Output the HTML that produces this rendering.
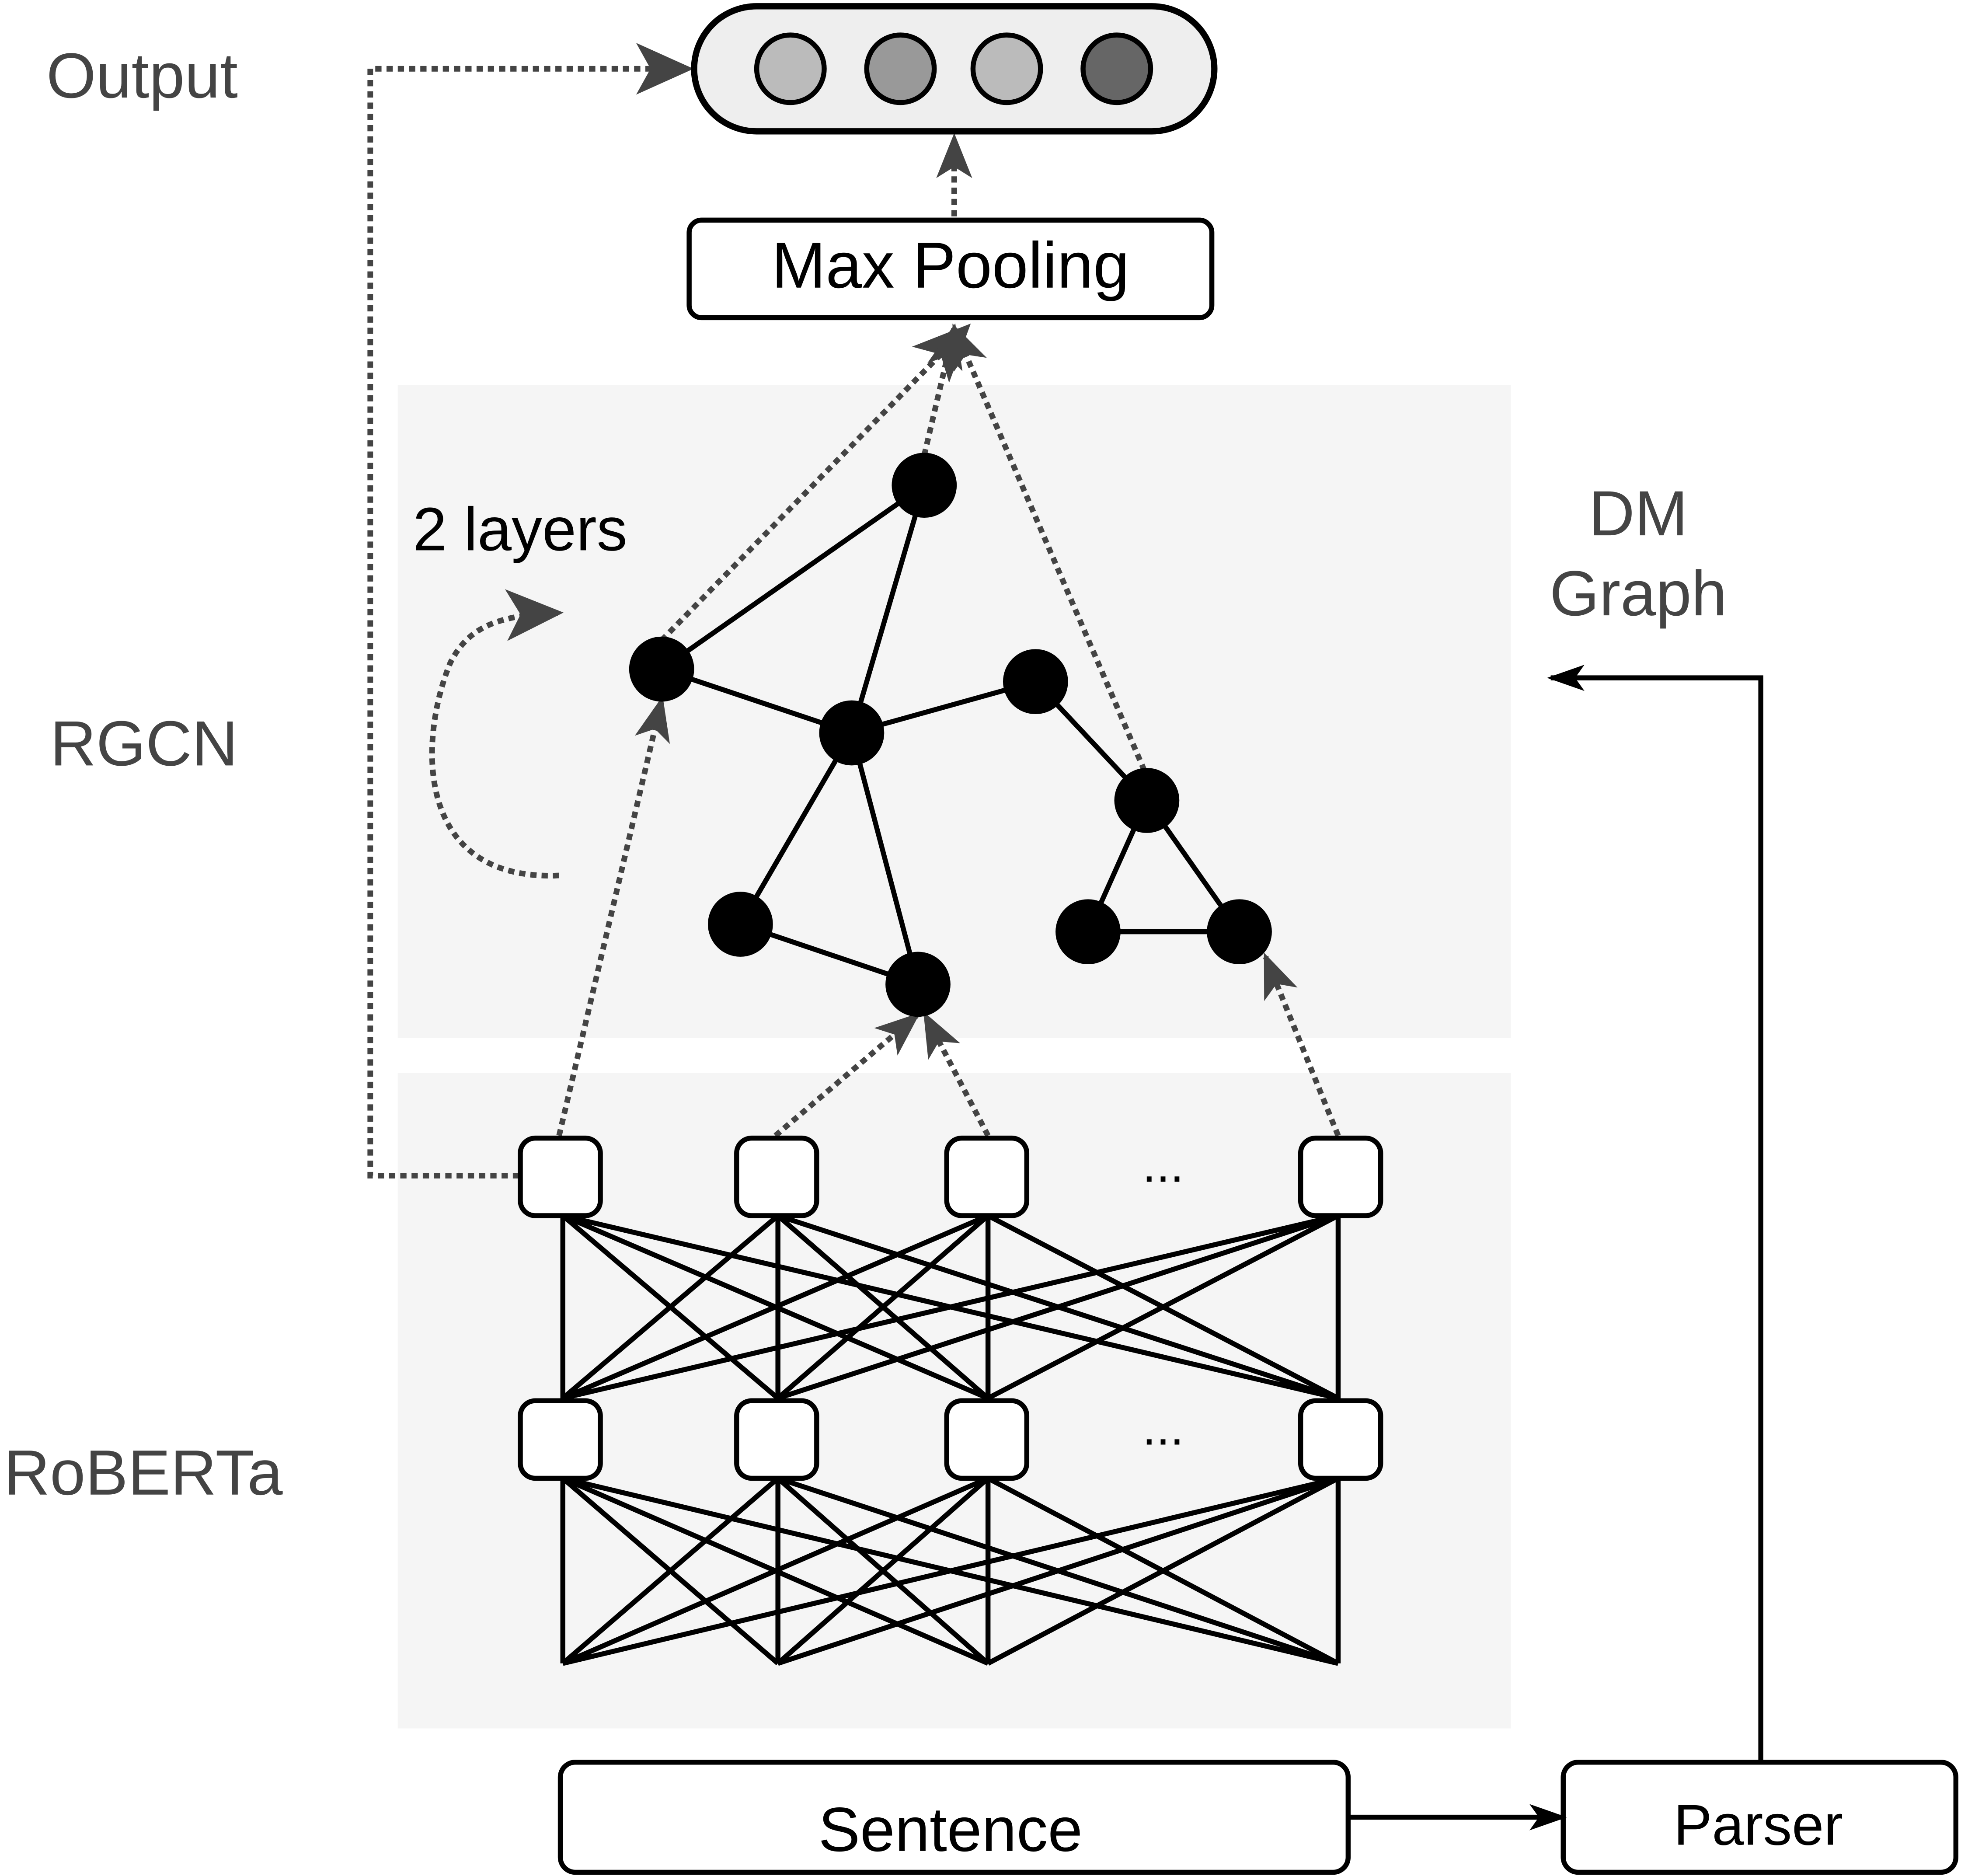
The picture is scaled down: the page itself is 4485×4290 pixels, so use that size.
<!DOCTYPE html>
<html><head><meta charset="utf-8"><style>
html,body{margin:0;padding:0;background:#fff;}
svg{display:block;}
text{font-family:"Liberation Sans",sans-serif;}
</style></head><body>
<svg width="4485" height="4290" viewBox="0 0 1568 1500" xmlns="http://www.w3.org/2000/svg">
<defs>
<marker id="ag" viewBox="0 0 20 20" refX="18" refY="10" markerWidth="36" markerHeight="36" markerUnits="userSpaceOnUse" orient="auto">
<path d="M0,2 L20,10 L0,18 L5,10 z" fill="#444"/></marker>
<marker id="agb" viewBox="0 0 20 20" refX="18" refY="10" markerWidth="46" markerHeight="46" markerUnits="userSpaceOnUse" orient="auto">
<path d="M0,1 L20,10 L0,19 L5,10 z" fill="#444"/></marker>
<marker id="ak" viewBox="0 0 20 20" refX="18" refY="10" markerWidth="30" markerHeight="30" markerUnits="userSpaceOnUse" orient="auto">
<path d="M0,3 L20,10 L0,17 L5,10 z" fill="#000"/></marker>
</defs>
<rect x="318" y="308" width="890" height="522" fill="#f5f5f5"/>
<rect x="318" y="858" width="890" height="524" fill="#f5f5f5"/>

<text x="37" y="78" font-size="51" fill="#444">Output</text>
<text x="40" y="612" font-size="51" fill="#444">RGCN</text>
<text x="3" y="1195" font-size="51" fill="#444">RoBERTa</text>
<text x="330" y="440" font-size="49" fill="#000">2 layers</text>
<text x="1310" y="428" font-size="51" fill="#444" text-anchor="middle">DM</text>
<text x="1310" y="492" font-size="51" fill="#444" text-anchor="middle">Graph</text>

<g stroke="#444" stroke-width="4.5" stroke-dasharray="5,4" fill="none">
<path d="M415,940 H296 V55 H550" marker-end="url(#agb)"/>
<path d="M763,173 V110" marker-end="url(#ag)"/>
<path d="M529,512 L773,262" marker-end="url(#agb)"/>
<path d="M739,364 L763,262" marker-end="url(#ag)"/>
<path d="M915,616 L763,262" marker-end="url(#ag)"/>
<path d="M447,908 L529,560" marker-end="url(#ag)"/>
<path d="M620,908 L733,812" marker-end="url(#ag)"/>
<path d="M790,908 L740,812" marker-end="url(#ag)"/>
<path d="M1070,908 L1012,765" marker-end="url(#ag)"/>
<path d="M447,700 C330,705 335,590 360,530 C375,500 400,492 446,490" marker-end="url(#agb)"/>
</g>

<rect x="555" y="5" width="416" height="100" rx="50" fill="#eee" stroke="#000" stroke-width="5"/>
<ellipse cx="632" cy="55" rx="27" ry="27" fill="#bbb" stroke="#000" stroke-width="4"/>
<ellipse cx="720" cy="55" rx="27" ry="27" fill="#999" stroke="#000" stroke-width="4"/>
<ellipse cx="805" cy="55" rx="27" ry="27" fill="#bbb" stroke="#000" stroke-width="4"/>
<ellipse cx="893" cy="55" rx="27" ry="27" fill="#666" stroke="#000" stroke-width="4"/>

<rect x="551" y="176" width="418" height="78" rx="10" fill="#fff" stroke="#000" stroke-width="4"/>
<text x="760" y="230" font-size="52" text-anchor="middle">Max Pooling</text>

<g stroke="#000" stroke-width="4">
<line x1="739" y1="388" x2="529" y2="535"/>
<line x1="739" y1="388" x2="681" y2="586"/>
<line x1="529" y1="535" x2="681" y2="586"/>
<line x1="681" y1="586" x2="828" y2="545"/>
<line x1="828" y1="545" x2="917" y2="640"/>
<line x1="681" y1="586" x2="592" y2="739"/>
<line x1="681" y1="586" x2="734" y2="787"/>
<line x1="592" y1="739" x2="734" y2="787"/>
<line x1="917" y1="640" x2="870" y2="745"/>
<line x1="917" y1="640" x2="991" y2="745"/>
<line x1="870" y1="745" x2="991" y2="745"/>
</g>
<g fill="#000">
<circle cx="739" cy="388" r="26"/><circle cx="529" cy="535" r="26"/>
<circle cx="681" cy="586" r="26"/><circle cx="828" cy="545" r="26"/>
<circle cx="917" cy="640" r="26"/><circle cx="592" cy="739" r="26"/>
<circle cx="734" cy="787" r="26"/><circle cx="870" cy="745" r="26"/>
<circle cx="991" cy="745" r="26"/>
</g>

<g stroke="#000" stroke-width="4">
<path d="M450,972 L450,1118 M450,972 L622,1118 M450,972 L790,1118 M450,972 L1070,1118
M622,972 L450,1118 M622,972 L622,1118 M622,972 L790,1118 M622,972 L1070,1118
M790,972 L450,1118 M790,972 L622,1118 M790,972 L790,1118 M790,972 L1070,1118
M1070,972 L450,1118 M1070,972 L622,1118 M1070,972 L790,1118 M1070,972 L1070,1118"/>
<path d="M450,1182 L450,1330 M450,1182 L622,1330 M450,1182 L790,1330 M450,1182 L1070,1330
M622,1182 L450,1330 M622,1182 L622,1330 M622,1182 L790,1330 M622,1182 L1070,1330
M790,1182 L450,1330 M790,1182 L622,1330 M790,1182 L790,1330 M790,1182 L1070,1330
M1070,1182 L450,1330 M1070,1182 L622,1330 M1070,1182 L790,1330 M1070,1182 L1070,1330"/>
</g>
<g fill="#fff" stroke="#000" stroke-width="4">
<rect x="416" y="910" width="64" height="62" rx="12"/>
<rect x="589" y="910" width="64" height="62" rx="12"/>
<rect x="757" y="910" width="64" height="62" rx="12"/>
<rect x="1040" y="910" width="64" height="62" rx="12"/>
<rect x="416" y="1120" width="64" height="62" rx="12"/>
<rect x="589" y="1120" width="64" height="62" rx="12"/>
<rect x="757" y="1120" width="64" height="62" rx="12"/>
<rect x="1040" y="1120" width="64" height="62" rx="12"/>
</g>
<text x="930" y="945" font-size="40" text-anchor="middle">...</text>
<text x="930" y="1155" font-size="40" text-anchor="middle">...</text>

<rect x="448" y="1409" width="630" height="88" rx="12" fill="#fff" stroke="#000" stroke-width="4"/>
<text x="760" y="1480" font-size="50" text-anchor="middle">Sentence</text>
<rect x="1250" y="1409" width="314" height="88" rx="12" fill="#fff" stroke="#000" stroke-width="4"/>
<text x="1406" y="1475" font-size="46" text-anchor="middle">Parser</text>
<g stroke="#000" stroke-width="4" fill="none">
<path d="M1078,1453 H1250" marker-end="url(#ak)"/>
<path d="M1408,1408 V542 H1240" marker-end="url(#ak)"/>
</g>
</svg>
</body></html>
